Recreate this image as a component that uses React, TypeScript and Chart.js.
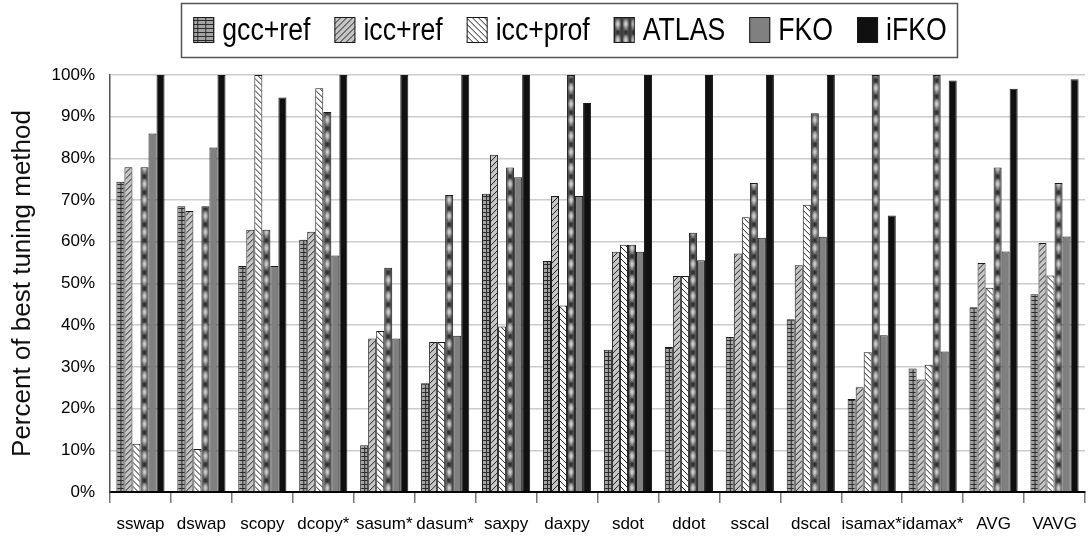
import React, { useEffect, useRef } from 'react';
import { Chart, registerables } from 'chart.js';
Chart.register(...registerables);

const categories = ['sswap', 'dswap', 'scopy', 'dcopy*', 'sasum*', 'dasum*', 'saxpy', 'daxpy', 'sdot', 'ddot', 'sscal', 'dscal', 'isamax*', 'idamax*', 'AVG', 'VAVG'];
const seriesNames = ['gcc+ref', 'icc+ref', 'icc+prof', 'ATLAS', 'FKO', 'iFKO'];
const gccRef = [74.4, 68.5, 54.2, 60.5, 11.2, 26.1, 71.5, 55.4, 34.1, 34.8, 37.2, 41.4, 22.3, 29.6, 44.3, 47.4];
const iccRef = [77.9, 67.4, 62.9, 62.4, 36.8, 36.0, 80.9, 71.0, 57.6, 51.8, 57.2, 54.4, 25.1, 27.0, 54.9, 59.7];
const iccProf = [11.6, 10.3, 100, 96.8, 38.6, 36.0, 39.7, 44.7, 59.3, 51.8, 65.9, 68.9, 33.5, 30.5, 49.0, 51.9];
const atlas = [77.9, 68.5, 62.9, 91.1, 53.8, 71.2, 77.8, 100, 59.3, 62.2, 74.1, 90.8, 100, 100, 77.8, 74.1];
const fko = [86.0, 82.6, 54.2, 56.7, 36.8, 37.5, 75.5, 71.0, 57.6, 55.6, 61.0, 61.2, 37.6, 33.7, 57.7, 61.3];
const ifko = [100, 100, 94.6, 100, 100, 100, 100, 93.3, 100, 100, 100, 100, 66.3, 98.7, 96.7, 99.0];
const seriesValues = [gccRef, iccRef, iccProf, atlas, fko, ifko];
const fillKinds = ['hbrick', 'fwd', 'back', 'atlas', 'solidGray', 'solidBlack'];

const REG = '"Liberation Sans", Arial, sans-serif';
const CAT_PCT = 0.79;

function makeTile(kind: string): HTMLCanvasElement {
  const t = document.createElement('canvas');
  const g = t.getContext('2d')!;
  if (kind === 'hbrick') {
    t.width = 8; t.height = 4;
    g.fillStyle = '#a4a4a4'; g.fillRect(0, 0, 8, 4);
    g.fillStyle = '#2a2a2a'; g.fillRect(0, 0, 8, 1); g.fillRect(4, 0, 1, 4);
  } else if (kind === 'fwd') {
    t.width = 6; t.height = 6;
    g.fillStyle = '#c6c6c6'; g.fillRect(0, 0, 6, 6);
    g.strokeStyle = '#1e1e1e'; g.lineWidth = 1;
    g.beginPath();
    g.moveTo(0, 6); g.lineTo(6, 0);
    g.moveTo(-1, 1); g.lineTo(1, -1);
    g.moveTo(5, 7); g.lineTo(7, 5);
    g.stroke();
  } else if (kind === 'back') {
    t.width = 6; t.height = 6;
    g.fillStyle = '#ffffff'; g.fillRect(0, 0, 6, 6);
    g.strokeStyle = '#1e1e1e'; g.lineWidth = 1;
    g.beginPath();
    g.moveTo(0, 0); g.lineTo(6, 6);
    g.moveTo(-1, 5); g.lineTo(1, 7);
    g.moveTo(5, -1); g.lineTo(7, 1);
    g.stroke();
  } else if (kind === 'atlas') {
    t.width = 8; t.height = 16;
    const lg = g.createLinearGradient(0, 0, 8, 0);
    lg.addColorStop(0, '#303030'); lg.addColorStop(0.5, '#858585'); lg.addColorStop(1, '#303030');
    g.fillStyle = lg; g.fillRect(0, 0, 8, 16);
    g.save();
    g.translate(4, 8); g.scale(1, 1.5);
    const rg = g.createRadialGradient(0, 0, 0, 0, 0, 3.5);
    rg.addColorStop(0, 'rgba(230,230,230,0.95)'); rg.addColorStop(1, 'rgba(230,230,230,0)');
    g.fillStyle = rg; g.fillRect(-4, -4, 8, 8);
    g.restore();
    const dg = g.createRadialGradient(4, 1, 0, 4, 1, 3);
    dg.addColorStop(0, 'rgba(15,15,15,0.9)'); dg.addColorStop(1, 'rgba(15,15,15,0)');
    g.fillStyle = dg; g.fillRect(0, 0, 8, 4);
    const dg2 = g.createRadialGradient(4, 16, 0, 4, 16, 3);
    dg2.addColorStop(0, 'rgba(15,15,15,0.9)'); dg2.addColorStop(1, 'rgba(15,15,15,0)');
    g.fillStyle = dg2; g.fillRect(0, 12, 8, 4);
  } else if (kind === 'solidGray') {
    t.width = 1; t.height = 1; g.fillStyle = '#808080'; g.fillRect(0, 0, 1, 1);
  } else {
    t.width = 1; t.height = 1; g.fillStyle = '#101010'; g.fillRect(0, 0, 1, 1);
  }
  return t;
}

const tiles: Record<string, HTMLCanvasElement> = {};
function fillFor(c: CanvasRenderingContext2D, kind: string, left: number): CanvasPattern | string {
  if (!tiles[kind]) tiles[kind] = makeTile(kind);
  const p = c.createPattern(tiles[kind], 'repeat');
  if (!p) return '#888';
  try { p.setTransform(new DOMMatrix([1, 0, 0, 1, left, 0])); } catch (e) { /* ignore */ }
  return p;
}

function scriptedFill(kind: string) {
  return (ctx: any) => {
    const chart = ctx.chart;
    const xs = chart.scales && chart.scales.x;
    let left = 0;
    if (ctx.type === 'data' && xs && typeof ctx.dataIndex === 'number') {
      const catW = xs.width / categories.length;
      const groupW = catW * CAT_PCT;
      const barW = groupW / seriesNames.length;
      left = xs.getPixelForValue(ctx.dataIndex) - groupW / 2 + ctx.datasetIndex * barW;
    }
    return fillFor(chart.ctx, kind, left);
  };
}

const boxLegend = {
  id: 'boxLegend',
  afterDraw(chart: any) {
    const c: CanvasRenderingContext2D = chart.ctx;
    c.save();
    c.font = `31px ${REG}`;
    const squeeze = 0.86;
    const sw = 21, sh = 26, gapText = 8, gapItem = 24;
    const widths = seriesNames.map((n) => sw + gapText + c.measureText(n).width * squeeze);
    const total = widths.reduce((a, b) => a + b, 0) + gapItem * (widths.length - 1);
    const cx = 570;
    const cy = 30;
    c.strokeStyle = '#555'; c.lineWidth = 1.5;
    c.strokeRect(Math.round(cx - total / 2 - 12) + 0.5, 3.5, Math.round(total + 22), 54);
    let x = cx - total / 2;
    seriesNames.forEach((n, i) => {
      c.fillStyle = fillFor(c, fillKinds[i], x) as any;
      c.fillRect(x, cy - sh / 2, sw, sh);
      c.strokeStyle = '#1a1a1a'; c.lineWidth = 1;
      c.strokeRect(x + 0.5, cy - sh / 2 + 0.5, sw - 1, sh - 1);
      c.save();
      c.translate(x + sw + gapText, cy + 1);
      c.scale(squeeze, 1);
      c.fillStyle = '#000'; c.textBaseline = 'middle'; c.textAlign = 'left';
      c.fillText(n, 0, 0);
      c.restore();
      x += widths[i] + gapItem;
    });
    c.restore();
  },
};

export default function App() {
  const ref = useRef<HTMLCanvasElement | null>(null);
  useEffect(() => {
    document.body.style.margin = '0';
    const canvas = ref.current!;
    const chart = new Chart(canvas, {
      type: 'bar',
      data: {
        labels: categories,
        datasets: seriesNames.map((name, i) => ({
          label: name,
          data: seriesValues[i],
          backgroundColor: scriptedFill(fillKinds[i]) as any,
          borderColor: '#1a1a1a',
          borderWidth: 1,
          barPercentage: 1,
          categoryPercentage: CAT_PCT,
        })),
      },
      options: {
        responsive: false,
        animation: false,
        devicePixelRatio: 1,
        layout: { padding: { top: 75, right: 3, bottom: 0, left: 0 } },
        plugins: { legend: { display: false }, tooltip: { enabled: false } },
        scales: {
          x: {
            grid: { display: true, drawOnChartArea: false, drawTicks: true, tickLength: 11, color: '#777', lineWidth: 1.5, offset: true },
            border: { color: '#000', width: 2 },
            ticks: { color: '#000', font: { family: REG, size: 17 }, padding: 11, maxRotation: 0, autoSkip: false },
            afterFit: (s: any) => { s.height = 45; },
          },
          y: {
            min: 0, max: 100,
            ticks: { stepSize: 10, callback: (v: any) => v + '%', color: '#000', font: { family: REG, size: 17 }, padding: 15 },
            grid: { color: '#cccccc', lineWidth: 1.5, drawTicks: false },
            border: { color: '#555', width: 1.5 },
            title: { display: true, text: 'Percent of best tuning method', color: '#111', font: { family: REG, size: 26 }, padding: { top: 7, bottom: 0 } },
            afterFit: (s: any) => { s.width = 110; },
          },
        },
      },
      plugins: [boxLegend],
    });
    return () => chart.destroy();
  }, []);
  return (
    <div style={{ width: 1088, height: 537 }}>
      <canvas ref={ref} width={1088} height={537} />
    </div>
  );
}
